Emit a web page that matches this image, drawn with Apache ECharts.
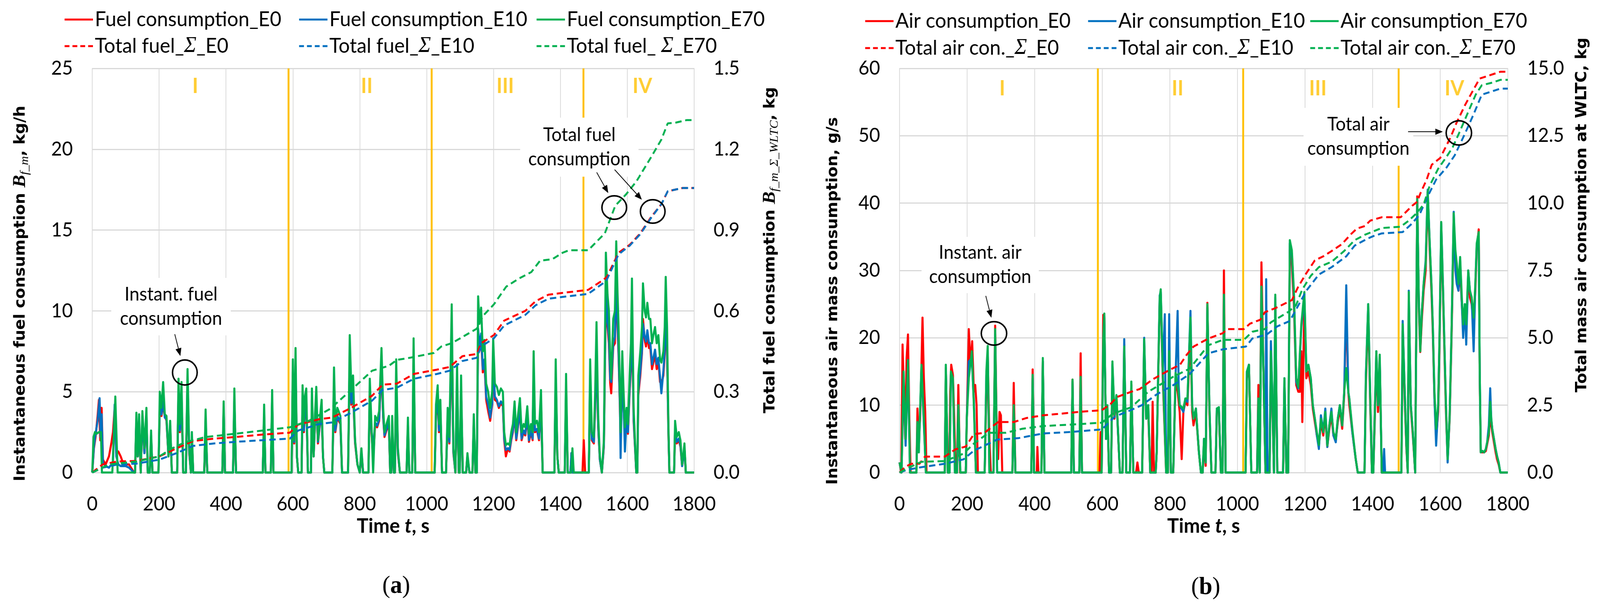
<!DOCTYPE html>
<html><head><meta charset="utf-8">
<script src="https://cdn.jsdelivr.net/npm/echarts@6/dist/echarts.min.js"></script>
<style>html,body{margin:0;padding:0;background:#fff;overflow:hidden}#c{width:4285px;height:1553px;transform-origin:0 0}</style>
</head><body><div id="c"></div>
<script>
// ---------------- DATA ----------------
const phaseLabels = ['I', 'II', 'III', 'IV'];
const phaseBoundsA = [587, 1015, 1469];
const phaseBoundsB = [587, 1017, 1477];

// Panel (a): instantaneous fuel consumption, kg/h  [t, value]
const fuelE0 = [[0,0],[5,1.5],[10,2.2],[16,3.5],[20,4.5],[24,2],[28,4.0],[32,0.8],[40,0.5],[50,1.0],[57,1.8],[62,2.5],[67,4.0],[72,1.2],[78,1.3],[85,1.0],[92,0.6],[100,0.5],[110,0.5],[125,0],[128,0],[132,3.2],[136,1],[140,3.0],[145,0],[147,0],[150,3.4],[156,1.2],[162,3.6],[166,0],[172,0],[176,2.2],[180,0],[198,0],[202,4.0],[207,3.5],[212,4.2],[217,3.5],[222,3.2],[228,1],[233,2.8],[238,0],[254,0],[258,4.8],[262,2.5],[267,4.6],[272,0],[280,0],[285,5.6],[290,1.2],[295,0],[298,2.0],[302,0],[335,0],[339,3.2],[344,0],[389,0],[393,3.8],[397,0],[421,0],[425,4.4],[430,0],[510,0],[514,3.5],[518,0],[534,0],[538,4.4],[542,0],[596,0],[600,6.0],[604,1.8],[608,6.4],[612,1],[616,0],[626,0],[629,4.4],[633,2.5],[636,3.8],[640,4.4],[645,0],[654,0],[657,4.4],[662,1],[666,3],[670,4.5],[675,1.8],[680,2.8],[686,3.8],[690,1],[694,0],[718,0],[723,5.4],[727,2.5],[733,3.4],[742,3.0],[747,0],[765,0],[770,7.0],[775,4.2],[780,5.0],[786,1.8],[793,0.5],[800,0],[805,1.2],[810,0],[826,0],[830,4.8],[835,2.5],[840,0.8],[846,3.0],[852,2.8],[858,3.2],[865,6.5],[870,3.4],[874,2.2],[880,2.6],[887,3.0],[891,0],[894,0],[897,2.8],[902,0],[905,0],[909,5.8],[914,1.2],[920,0],[940,0],[944,2.8],[948,0],[957,0],[961,6.8],[966,0],[1024,0],[1028,3.5],[1033,4.5],[1037,2.5],[1041,3.8],[1046,0],[1058,0],[1063,3.3],[1068,1.8],[1075,8.5],[1080,1.2],[1086,0],[1088,0],[1091,5.5],[1096,0],[1099,0],[1103,5.0],[1108,0],[1118,0],[1122,1.0],[1128,0],[1137,0],[1141,3.0],[1146,0],[1150,0],[1154,8.6],[1158,7.6],[1163,8.3],[1168,6.2],[1173,6.8],[1178,4.5],[1184,3.8],[1190,3.2],[1196,4.2],[1199,6.8],[1204,4.5],[1210,4.4],[1216,4.0],[1222,4.3],[1228,4.1],[1232,2.0],[1237,1.0],[1243,1.5],[1248,1.3],[1253,2.0],[1258,2.5],[1263,3.6],[1268,2.0],[1273,2.8],[1279,3.8],[1284,2.0],[1290,2.5],[1295,2.3],[1301,3.4],[1306,1.9],[1312,2.5],[1317,2.0],[1320,6.1],[1324,2.5],[1330,2.6],[1336,2.0],[1342,4.2],[1347,0],[1382,0],[1386,5.8],[1391,1],[1395,0],[1413,0],[1417,5.0],[1422,0],[1430,0],[1433,1.2],[1436,0],[1466,0],[1470,2.0],[1474,0],[1485,0],[1489,5.8],[1494,2.0],[1500,1.8],[1504,4],[1508,7.6],[1513,2.8],[1518,0.8],[1524,0],[1530,1.6],[1536,11.0],[1541,9],[1545,8.0],[1549,5.5],[1552,4.9],[1558,7.8],[1563,8],[1567,11.5],[1571,9],[1574,7.2],[1578,4],[1580,2.0],[1585,6],[1589,4],[1593,2.3],[1598,3.2],[1602,2.4],[1607,5],[1611,6.5],[1614,9.8],[1619,3.2],[1622,2.0],[1627,0],[1630,0],[1633,4.8],[1639,6.0],[1644,7.4],[1647,9.5],[1652,8.2],[1656,7.8],[1660,8.5],[1665,7.7],[1669,7.7],[1674,6.4],[1678,6.8],[1683,7.3],[1688,6.4],[1693,6.9],[1698,5.6],[1702,5.5],[1708,6.0],[1712,7.3],[1715,9.8],[1719,7.3],[1723,2.5],[1726,0],[1740,0],[1743,2.6],[1748,1.8],[1754,2.0],[1759,1.6],[1764,0.4],[1768,1.0],[1771,1.5],[1775,0],[1800,0]];
const fuelE10 = [[0,0],[5,1.6],[10,2.4],[16,3.2],[22,4.6],[25,2.2],[28,3.6],[32,0.6],[40,0.4],[50,0.3],[57,0.5],[62,0.6],[67,4.2],[72,1.0],[78,0.5],[85,0.4],[100,0.4],[110,0.3],[125,0],[128,0],[132,3.3],[136,1],[140,3.1],[145,0],[147,0],[150,3.5],[156,1.2],[162,3.7],[166,0],[172,0],[176,2.3],[180,0],[198,0],[202,4.1],[207,3.6],[212,4.4],[217,3.4],[222,3.3],[228,1],[233,2.9],[238,0],[254,0],[258,4.9],[262,2.6],[267,4.7],[272,0],[280,0],[285,5.7],[290,1.3],[295,0],[298,1.9],[302,0],[335,0],[339,3.3],[344,0],[389,0],[393,3.9],[397,0],[421,0],[425,4.5],[430,0],[510,0],[514,3.6],[518,0],[534,0],[538,4.5],[542,0],[596,0],[600,6.2],[604,1.9],[608,6.6],[612,1],[616,0],[626,0],[629,4.6],[633,2.6],[636,3.9],[640,4.5],[645,0],[654,0],[657,4.5],[662,1],[666,3.1],[670,4.6],[675,1.9],[680,2.9],[686,3.9],[690,1],[694,0],[718,0],[723,5.6],[727,2.6],[733,3.5],[742,3.1],[747,0],[765,0],[770,7.2],[775,4.3],[780,5.2],[786,1.9],[793,0.5],[800,0],[805,1.3],[810,0],[826,0],[830,5.0],[835,2.6],[840,1.5],[846,3.1],[852,2.9],[858,3.3],[865,6.7],[870,3.5],[874,2.3],[880,2.7],[887,3.1],[891,0],[894,0],[897,2.9],[902,0],[905,0],[909,6.0],[914,1.3],[920,0],[940,0],[944,2.9],[948,0],[957,0],[961,7.0],[966,0],[1024,0],[1028,3.6],[1033,4.6],[1037,2.6],[1041,3.9],[1046,0],[1058,0],[1063,3.4],[1068,1.9],[1075,8.8],[1080,1.3],[1086,0],[1088,0],[1091,5.7],[1096,0],[1099,0],[1103,5.1],[1108,0],[1118,0],[1122,1.0],[1128,0],[1137,0],[1141,3.1],[1146,0],[1150,0],[1154,8.9],[1158,7.8],[1163,8.6],[1168,6.4],[1173,7.0],[1178,4.7],[1184,4.2],[1190,3.4],[1196,4.3],[1199,7.0],[1204,4.7],[1210,4.5],[1216,4.1],[1222,4.4],[1228,4.2],[1232,2.1],[1237,1.4],[1243,1.5],[1248,1.4],[1253,2.1],[1258,2.6],[1263,3.7],[1268,2.1],[1273,2.9],[1279,3.9],[1284,2.1],[1290,2.6],[1295,2.4],[1301,3.5],[1306,2.0],[1312,2.6],[1317,2.1],[1320,6.3],[1324,2.6],[1330,2.7],[1336,2.1],[1342,4.3],[1347,0],[1382,0],[1386,6.0],[1391,1],[1395,0],[1413,0],[1417,5.2],[1422,0],[1430,0],[1433,1.2],[1436,0],[1485,0],[1489,6.0],[1494,2.1],[1500,1.9],[1504,4.2],[1508,7.8],[1513,2.9],[1518,0.8],[1524,0],[1530,1.7],[1536,11.4],[1541,9.3],[1545,8.4],[1549,5.8],[1552,5.6],[1558,8.0],[1563,8.4],[1567,12.0],[1571,9.3],[1574,7.5],[1578,4.2],[1580,0.9],[1585,6.3],[1589,4.2],[1593,1.3],[1598,3.4],[1602,2.5],[1607,5.2],[1611,6.8],[1614,10.1],[1619,3.4],[1622,2.1],[1627,0],[1630,0],[1633,5.0],[1639,6.3],[1644,7.6],[1647,9.2],[1652,8.4],[1656,8.1],[1660,8.8],[1665,8.0],[1669,8.0],[1674,6.7],[1678,7.1],[1683,7.6],[1688,6.7],[1693,7.1],[1698,5.9],[1702,4.9],[1708,6.3],[1712,7.6],[1715,10.1],[1719,7.6],[1723,2.6],[1726,0],[1740,0],[1743,2.7],[1748,1.9],[1754,2.1],[1759,1.7],[1764,0.4],[1768,1.0],[1771,1.5],[1775,0],[1800,0]];
const fuelE70 = [[0,0],[4,2.2],[8,2.5],[13,2.4],[20,2.5],[26,2.5],[29,0],[60,0],[66,3],[69,4.7],[73,2],[76,0],[128,0],[132,3.7],[136,1],[140,3.6],[145,0],[147,0],[150,3.8],[156,1.5],[162,4.0],[166,0],[172,0],[176,2.6],[180,0],[198,0],[202,5.0],[207,4],[212,5.6],[217,3.6],[222,3.5],[228,1],[233,3.2],[238,0],[254,0],[258,5.8],[262,3],[267,5.6],[272,0],[280,0],[285,6.4],[290,1.5],[295,0],[298,2.5],[302,0],[335,0],[339,3.9],[344,0],[389,0],[393,4.4],[397,0],[421,0],[425,5.2],[430,0],[510,0],[514,4.2],[518,0],[534,0],[538,5.1],[542,0],[596,0],[600,7.0],[604,2],[608,7.7],[612,1],[616,0],[626,0],[629,5.4],[633,3],[636,4.7],[640,5.2],[645,0],[654,0],[657,5.2],[662,1],[666,3.5],[670,5.3],[675,2],[680,3.2],[686,4.5],[690,1],[694,0],[718,0],[723,6.5],[727,3],[733,4],[742,3.5],[747,0],[765,0],[770,8.5],[775,5],[780,6.0],[786,2],[793,0.5],[800,0],[805,1.5],[810,0],[826,0],[830,5.8],[835,3],[840,0],[846,3.5],[852,3.2],[858,3.8],[865,7.7],[870,4],[874,2.5],[880,3],[887,3.5],[891,0],[894,0],[897,3.5],[902,0],[905,0],[909,7.0],[914,1.5],[920,0],[940,0],[944,3.4],[948,0],[957,0],[961,8.3],[966,0],[1024,0],[1028,4.2],[1033,5.4],[1037,3],[1041,4.5],[1046,0],[1058,0],[1063,4.0],[1068,2.2],[1075,10.4],[1080,1.5],[1086,0],[1088,0],[1091,6.7],[1096,0],[1099,0],[1103,6.0],[1108,0],[1118,0],[1122,1.2],[1128,0],[1137,0],[1141,3.6],[1146,0],[1150,0],[1154,10.9],[1158,9.2],[1163,10.2],[1168,7.5],[1173,8.2],[1178,5.5],[1184,5.0],[1190,4.0],[1196,5],[1199,8.3],[1204,5.5],[1210,5.3],[1216,4.8],[1222,5.2],[1228,5.0],[1232,2.5],[1237,1.7],[1243,1.8],[1248,1.7],[1253,2.5],[1258,3.0],[1263,4.4],[1268,2.5],[1273,3.5],[1279,4.6],[1284,2.5],[1290,3.0],[1295,2.8],[1301,4.1],[1306,2.4],[1312,3.0],[1317,2.5],[1320,7.5],[1324,3.0],[1330,3.2],[1336,2.5],[1342,5.1],[1347,0],[1382,0],[1386,7.0],[1391,1],[1395,0],[1413,0],[1417,6.1],[1422,0],[1432,0],[1436,1.5],[1440,0],[1485,0],[1489,7.0],[1494,2.5],[1500,2.2],[1504,5],[1508,9.3],[1513,3.5],[1518,1],[1524,0],[1530,2],[1536,13.6],[1541,11],[1545,10.0],[1549,7],[1552,5.8],[1558,9.5],[1563,10],[1567,14.3],[1571,11],[1574,9.0],[1578,5],[1580,2.5],[1585,7.5],[1589,5],[1593,2.8],[1598,4],[1602,3.0],[1607,6],[1611,8],[1614,12.0],[1619,4],[1622,2.5],[1627,0],[1630,0],[1633,6.0],[1639,7.5],[1644,9],[1647,11.7],[1652,10.0],[1656,9.6],[1660,10.5],[1665,9.5],[1669,9.5],[1674,8.0],[1678,8.5],[1683,9.0],[1688,8.0],[1693,8.5],[1698,7.0],[1702,6.8],[1708,7.5],[1712,9],[1715,12.1],[1719,9.0],[1723,3],[1726,0],[1740,0],[1743,3.2],[1748,2.2],[1754,2.5],[1759,2.0],[1764,0.5],[1768,1.2],[1771,1.8],[1775,0],[1800,0]];

// Panel (a): total fuel consumption, kg
const totFuelE0 = [[0,0],[31,0.030],[75,0.041],[132,0.043],[201,0.060],[252,0.090],[302,0.117],[365,0.126],[428,0.132],[510,0.141],[591,0.148],[616,0.178],[679,0.198],[717,0.204],[774,0.240],[837,0.285],[868,0.326],[911,0.330],[962,0.366],[1031,0.382],[1069,0.392],[1107,0.432],[1150,0.440],[1163,0.480],[1201,0.510],[1232,0.564],[1295,0.600],[1326,0.636],[1364,0.660],[1401,0.666],[1483,0.678],[1527,0.714],[1539,0.726],[1574,0.816],[1608,0.846],[1639,0.888],[1671,0.948],[1702,0.996],[1721,1.044],[1765,1.056],[1800,1.056]];
const totFuelE10 = [[0,0],[31,0.018],[75,0.030],[132,0.033],[201,0.048],[252,0.072],[302,0.099],[365,0.108],[428,0.114],[510,0.120],[591,0.126],[616,0.156],[679,0.180],[717,0.186],[774,0.222],[837,0.267],[868,0.306],[911,0.315],[962,0.348],[1031,0.366],[1069,0.378],[1107,0.414],[1150,0.426],[1163,0.468],[1201,0.498],[1232,0.546],[1295,0.585],[1326,0.621],[1364,0.645],[1401,0.651],[1483,0.663],[1527,0.702],[1539,0.716],[1574,0.810],[1608,0.843],[1639,0.885],[1671,0.945],[1702,0.996],[1721,1.044],[1765,1.056],[1800,1.056]];
const totFuelE70 = [[0,0],[50,0.030],[132,0.041],[201,0.060],[239,0.090],[277,0.112],[340,0.132],[428,0.144],[591,0.168],[648,0.192],[711,0.236],[774,0.306],[837,0.378],[887,0.396],[911,0.418],[950,0.426],[1022,0.444],[1044,0.468],[1075,0.480],[1100,0.498],[1150,0.534],[1169,0.582],[1201,0.624],[1238,0.690],[1276,0.720],[1313,0.744],[1339,0.786],[1376,0.792],[1407,0.816],[1426,0.825],[1483,0.825],[1533,0.888],[1564,0.990],[1596,1.032],[1627,1.080],[1671,1.170],[1702,1.236],[1721,1.296],[1746,1.299],[1777,1.308],[1800,1.308]];

// Panel (b): instantaneous air mass consumption, g/s
const airE0 = [[0,1.5],[5,0],[9,19],[13,12],[17,5],[21,17],[25,20.5],[29,8],[33,0],[50,0],[53,9.5],[57,5],[61,8],[65,16],[68,23],[72,14],[76,9],[80,0],[134,0],[137,15.5],[143,0],[147,0],[150,12],[153,16],[158,14.5],[162,8],[166,0],[170,0],[174,13],[179,0],[196,0],[200,10],[205,21.3],[210,16],[215,19.5],[220,12],[224,13],[228,10],[232,0],[252,0],[257,12],[261,17.5],[266,5],[270,0],[278,0],[283,21.8],[288,5],[292,2],[296,9],[300,8.5],[304,0],[334,0],[338,13.3],[343,0],[390,0],[394,15.3],[398,0],[406,0],[408,3.8],[411,0],[420,0],[424,16.5],[429,0],[508,0],[512,13.8],[516,0],[532,0],[536,17.7],[540,0],[592,0],[595,6],[598,0],[600,0],[603,23.4],[606,23],[611,5],[615,9],[620,0],[626,0],[630,15],[636,8],[642,11],[652,0],[660,0],[665,19],[671,0],[682,0],[686,13],[692,0],[700,0],[704,1.5],[708,0],[718,0],[724,19],[730,8],[736,9],[742,0],[746,0],[749,10.5],[753,0],[758,0],[761,3],[770,25.6],[773,26.5],[779,14],[789,0],[794,0],[798,17],[803,0],[810,0],[817,14],[823,12],[829,9],[835,2],[840,9],[846,10.5],[852,10],[861,21],[866,9],[870,7],[877,9],[886,3],[892,0],[897,0],[901,4],[906,1],[911,25.2],[917,9],[923,0],[935,0],[939,9],[945,9.2],[951,0],[956,0],[960,30],[965,0],[1024,0],[1028,14],[1034,16],[1041,0],[1058,0],[1062,13],[1066,0],[1068,0],[1071,31.2],[1077,15],[1083,0],[1095,0],[1099,17],[1103,11],[1108,0],[1110,0],[1112,25],[1118,0],[1135,0],[1139,13],[1145,0],[1150,0],[1155,33],[1161,31],[1167,25],[1174,13],[1180,12],[1185,12],[1189,18],[1192,7.5],[1198,25],[1204,14],[1210,15],[1217,13],[1223,9.5],[1229,7.5],[1235,5.5],[1241,4],[1247,7.5],[1254,5.5],[1260,8.5],[1266,3.8],[1272,6.5],[1278,8.5],[1284,5.5],[1291,4.8],[1297,7.5],[1303,9.5],[1310,6.5],[1316,11.5],[1322,25],[1328,12],[1331,10],[1340,6],[1350,2],[1356,0],[1376,0],[1380,13],[1387,24],[1393,10],[1398,0],[1402,0],[1406,7],[1411,17],[1416,9],[1421,16.5],[1427,0],[1485,0],[1489,21],[1495,11],[1500,3.5],[1504,0],[1507,25.5],[1513,9.5],[1519,5.5],[1526,0],[1532,41],[1537,24],[1541,17.9],[1546,23],[1551,27],[1557,30],[1563,41],[1569,33],[1574,27],[1578,21],[1583,11],[1588,5],[1594,9],[1598,19],[1603,36],[1608,27],[1612,19],[1617,9],[1622,2],[1628,8],[1634,21],[1640,37],[1645,31],[1649,29],[1654,27],[1659,30],[1664,25],[1668,21.5],[1673,24],[1677,21],[1683,29],[1688,26],[1693,25],[1699,22],[1704,27],[1708,33],[1714,36.1],[1717,14],[1720,3],[1725,3],[1730,3],[1735,3.2],[1739,4.2],[1744,5.5],[1748,9.5],[1751,7],[1754,6],[1759,4.5],[1764,3],[1768,2],[1773,1.2],[1778,0],[1800,0]];
const airE10 = [[0,1.5],[6,0],[12,14],[18,4],[25,16],[31,0],[50,0],[53,7],[57,3],[65,15.5],[71,8.5],[78,0],[134,0],[137,15.5],[143,0],[148,0],[152,14.5],[158,13.5],[164,0],[170,0],[174,9.5],[180,0],[196,0],[199,8],[205,16.5],[214,17],[220,10.5],[226,0],[252,0],[257,14.5],[261,17.5],[266,0],[278,0],[283,20.5],[289,0],[334,0],[338,9.5],[343,0],[390,0],[394,14],[398,0],[420,0],[424,16.5],[429,0],[508,0],[512,13.5],[516,0],[532,0],[536,14],[540,0],[598,0],[603,19.5],[606,23.2],[611,5],[615,9.5],[620,0],[626,0],[630,16],[636,8.5],[642,11],[652,0],[660,0],[665,19.8],[671,0],[682,0],[686,13],[692,0],[718,0],[724,20],[730,8],[736,10],[742,0],[758,0],[761,3],[770,26.3],[773,26.8],[779,15],[785,23.5],[789,0],[794,0],[798,23.5],[803,0],[810,0],[817,14.5],[823,24],[826,13],[829,10],[840,9],[846,11],[852,10.5],[861,24],[866,10],[870,8],[877,9.5],[886,3],[892,0],[897,0],[901,5],[906,1.5],[911,24.5],[917,10],[923,0],[935,0],[939,9.5],[945,9.5],[951,0],[956,0],[960,26],[965,0],[1024,0],[1028,15],[1034,16],[1041,0],[1058,0],[1062,11],[1066,0],[1068,0],[1071,27],[1077,15],[1083,0],[1085,28.7],[1089,0],[1095,0],[1099,19.5],[1103,12],[1108,0],[1110,0],[1112,26],[1118,0],[1135,0],[1139,14],[1145,0],[1150,0],[1155,34],[1161,32.5],[1167,26.5],[1174,13.5],[1180,12.5],[1189,21.5],[1198,26],[1204,15],[1210,16],[1217,14],[1223,10],[1229,8],[1235,5.5],[1241,3.5],[1247,8.5],[1254,6],[1260,9.5],[1266,3.8],[1272,7],[1278,9.5],[1284,5.5],[1291,4.5],[1297,8],[1303,10],[1310,7],[1316,12],[1322,27.8],[1328,12],[1331,11],[1340,6],[1350,2],[1356,0],[1376,0],[1380,14.5],[1387,25],[1393,11],[1398,0],[1402,0],[1406,8],[1411,18],[1416,10],[1421,17],[1427,0],[1431,0],[1434,3.5],[1437,0],[1485,0],[1489,22.5],[1495,12],[1500,4],[1504,0],[1507,27],[1513,10],[1519,6],[1526,0],[1532,40.3],[1537,25],[1541,19],[1546,24],[1551,28],[1557,31.5],[1563,42],[1569,34],[1574,28],[1578,22],[1583,11],[1588,4],[1594,10],[1598,20],[1603,37],[1608,28],[1612,20],[1617,10],[1622,1.5],[1628,8.5],[1634,22],[1640,38.7],[1645,30],[1649,28],[1654,27],[1659,31.5],[1664,25],[1668,20],[1673,25],[1677,19],[1683,30],[1688,27],[1693,26],[1699,18],[1704,28],[1708,33.5],[1714,34.5],[1717,15],[1720,3],[1725,3.2],[1730,3],[1735,3.5],[1739,4.5],[1744,7],[1748,12.5],[1751,8],[1754,6.5],[1759,5],[1764,3.5],[1768,2.5],[1773,1.5],[1778,0],[1800,0]];
const airE70 = [[0,1.5],[6,0],[12,15],[18,5],[25,16.7],[31,0],[50,0],[53,7.5],[57,3],[65,16.0],[71,9],[78,0],[134,0],[137,16],[143,0],[148,0],[152,15],[158,14],[164,0],[170,0],[174,10],[180,0],[196,0],[199,8],[205,14],[214,18],[220,10],[226,0],[252,0],[257,15],[261,18.8],[266,0],[278,0],[283,21.3],[289,0],[334,0],[338,10],[343,0],[390,0],[394,14.5],[398,0],[420,0],[424,17],[429,0],[508,0],[512,13.8],[516,0],[532,0],[536,14.2],[540,0],[598,0],[603,20],[606,23.6],[611,5],[615,10],[620,0],[626,0],[630,16.5],[636,8.5],[642,11.5],[652,0],[660,0],[665,18.7],[671,0],[682,0],[686,13.5],[692,0],[718,0],[724,19.8],[730,8],[736,10],[742,0],[758,0],[761,3],[770,26],[773,27.2],[779,15],[789,0],[794,0],[798,18],[803,0],[810,0],[817,14.8],[823,13],[829,10],[840,9.5],[846,11],[852,11],[861,23],[866,10],[870,8],[877,9.5],[886,3],[892,0],[897,0],[901,5],[906,1.5],[911,25],[917,10],[923,0],[935,0],[939,9.5],[945,9.7],[951,0],[956,0],[960,26.4],[965,0],[1024,0],[1028,15],[1034,16],[1041,0],[1058,0],[1062,11],[1066,0],[1068,0],[1071,27.6],[1077,15],[1083,0],[1095,0],[1099,18],[1103,12],[1108,0],[1110,0],[1112,26.4],[1118,0],[1135,0],[1139,14],[1145,0],[1150,0],[1155,34.5],[1161,33],[1167,27],[1174,14],[1180,12.7],[1189,22],[1198,26.8],[1204,15],[1210,16],[1217,14],[1223,10],[1229,8],[1235,6],[1241,4.1],[1247,8],[1254,6],[1260,9],[1266,4],[1272,7],[1278,9],[1284,6],[1291,5],[1297,8],[1303,10],[1310,7],[1316,12],[1322,15.5],[1328,12],[1331,11],[1340,6.5],[1350,2],[1356,0],[1376,0],[1380,14],[1387,25],[1393,11],[1398,0],[1402,0],[1406,8],[1411,18],[1416,10],[1421,17.5],[1427,0],[1485,0],[1489,22],[1495,12],[1500,4],[1504,0],[1507,26.8],[1513,10],[1519,6],[1526,0],[1532,40.6],[1537,25],[1541,18],[1546,24],[1551,28],[1557,31],[1563,41.7],[1569,34],[1574,28],[1578,22],[1583,12],[1588,6.5],[1594,10],[1598,20],[1603,37.2],[1608,28],[1612,20],[1617,10],[1622,2],[1628,8.5],[1634,22],[1640,38.5],[1645,33],[1649,31],[1654,28],[1659,32],[1664,26],[1668,22],[1673,25],[1677,22],[1683,30],[1688,27],[1693,26],[1699,23],[1704,28],[1708,34],[1714,35.7],[1717,15],[1720,3],[1725,3.2],[1730,3],[1735,3.5],[1739,4.5],[1744,6],[1748,10.5],[1751,8],[1754,6.5],[1759,5],[1764,3.5],[1768,2.5],[1773,1.5],[1778,0],[1800,0]];

// Panel (b): total air consumption, kg
const totAirE0 = [[0,0],[16,0.2],[34,0.325],[59,0.325],[75,0.59],[134,0.59],[165,0.86],[196,0.965],[220,1.425],[252,1.475],[276,1.725],[292,1.875],[338,1.875],[376,2.025],[425,2.125],[469,2.175],[531,2.25],[599,2.315],[624,2.54],[643,2.8],[686,3.0],[711,3.1],[748,3.45],[798,3.8],[830,4.0],[850,4.375],[870,4.675],[914,4.975],[957,5.175],[969,5.325],[1019,5.325],[1037,5.525],[1068,5.675],[1081,5.95],[1112,6.1],[1149,6.325],[1161,6.4],[1180,6.9],[1204,7.4],[1229,7.875],[1254,8.025],[1279,8.225],[1309,8.475],[1334,8.825],[1353,9.05],[1377,9.15],[1393,9.35],[1427,9.475],[1483,9.475],[1501,9.7],[1517,9.9],[1532,10.05],[1541,10.35],[1560,10.875],[1575,11.425],[1600,11.675],[1612,11.975],[1631,12.45],[1649,13.0],[1674,13.65],[1699,14.225],[1717,14.625],[1748,14.75],[1778,14.875],[1800,14.875]];
const totAirE10 = [[0,0],[22,0.1],[65,0.2],[134,0.325],[189,0.4875],[220,0.8125],[264,1.075],[289,1.225],[351,1.275],[425,1.45],[500,1.5],[599,1.6],[637,2.075],[686,2.325],[717,2.5],[761,2.9],[811,3.25],[858,3.65],[914,4.425],[957,4.575],[1025,4.675],[1044,4.975],[1087,5.125],[1118,5.425],[1155,5.625],[1180,6.2],[1204,6.75],[1241,7.35],[1279,7.625],[1322,8.025],[1347,8.425],[1384,8.675],[1402,8.775],[1427,8.875],[1489,8.925],[1513,9.2],[1538,9.55],[1563,10.25],[1588,10.875],[1619,11.325],[1643,11.775],[1674,12.6],[1699,13.3],[1723,14.025],[1748,14.125],[1778,14.25],[1800,14.25]];
const totAirE70 = [[0,0],[22,0.15],[65,0.4],[134,0.425],[189,0.7],[220,1.075],[264,1.475],[314,1.475],[363,1.625],[425,1.725],[500,1.775],[599,1.85],[630,2.175],[686,2.425],[736,3.0],[780,3.325],[809,3.55],[858,3.85],[914,4.725],[957,4.925],[1019,4.925],[1044,5.225],[1081,5.325],[1099,5.575],[1149,5.95],[1173,6.2],[1192,6.8],[1217,7.3],[1241,7.625],[1279,7.825],[1316,8.225],[1347,8.625],[1377,8.825],[1402,8.95],[1427,9.075],[1483,9.125],[1507,9.35],[1532,9.65],[1551,9.95],[1569,10.65],[1594,11.275],[1619,11.725],[1637,12.075],[1656,12.6],[1680,13.3],[1705,14.025],[1723,14.375],[1755,14.475],[1778,14.575],[1800,14.575]];

// ---------------- LAYOUT / STYLE ----------------
const W = 4285, H = 1553;
(function fitViewport() {
  const el = document.getElementById('c');
  const sx = Math.min(1, (window.innerWidth || W) / W);
  const sy = Math.min(1, (window.innerHeight || H) / H);
  if (sx < 1 || sy < 1) el.style.transform = 'scale(' + sx + ',' + sy + ')';
})();

const RED = '#FF0000', BLUE = '#0070C0', GREEN = '#00B050', ORANGE = '#FFC000', GRID = '#d9d9d9';
const FONT = 'Lato';

const chart = echarts.init(document.getElementById('c'), null, {renderer: 'canvas', width: W, height: H});

function solid(name, data, color, xi, yi) {
  return {name, type: 'line', data, xAxisIndex: xi, yAxisIndex: yi, symbol: 'none', silent: true,
    lineStyle: {color, width: 5.5, join: 'round'}, itemStyle: {color}, z: 3};
}
function dashed(name, data, color, xi, yi) {
  return {name, type: 'line', data, xAxisIndex: xi, yAxisIndex: yi, symbol: 'none', silent: true,
    lineStyle: {color, width: 5, type: [17, 10]}, itemStyle: {color}, z: 4};
}
function phaseLines(bounds, xi, yi, ymax) {
  return bounds.map(b => ({type: 'line', xAxisIndex: xi, yAxisIndex: yi, symbol: 'none', silent: true,
    data: [[b, 0], [b, ymax]], lineStyle: {color: ORANGE, width: 5}, z: 2}));
}
function romans(pos, xi, yi, y) {
  return {type: 'scatter', xAxisIndex: xi, yAxisIndex: yi, symbolSize: 2, silent: true,
    itemStyle: {color: 'rgba(0,0,0,0)'}, z: 5,
    data: pos.map((t, i) => ({name: phaseLabels[i], value: [t, y]})),
    label: {show: true, position: 'inside', formatter: '{b}', fontFamily: FONT, fontWeight: 'bold',
      fontSize: 53, color: ORANGE}};
}

function xAx(gi) {
  return {type: 'value', gridIndex: gi, min: 0, max: 1800, interval: 200,
    axisLine: {show: true, lineStyle: {color: GRID, width: 3}}, axisTick: {show: false},
    splitLine: {show: true, lineStyle: {color: GRID, width: 2}},
    axisLabel: {fontFamily: FONT, fontSize: 50, color: '#000', margin: 56, formatter: v => String(v)},
    name: '{b|Time }{bi|t}{b|, s}', nameLocation: 'middle', nameGap: 110,
    nameTextStyle: {rich: {
      b: {fontFamily: FONT, fontWeight: 'bold', fontSize: 52, color: '#000'},
      bi: {fontFamily: FONT, fontWeight: 'bold', fontStyle: 'italic', fontSize: 52, color: '#000'}}}};
}
function yAx(gi, pos, max, interval, dec, split) {
  return {type: 'value', gridIndex: gi, position: pos, min: 0, max, interval,
    axisLine: {show: true, lineStyle: {color: GRID, width: 2}}, axisTick: {show: false},
    splitLine: {show: split, lineStyle: {color: GRID, width: 3}},
    axisLabel: {fontFamily: FONT, fontSize: 50, color: '#000', margin: 52,
      formatter: v => dec ? v.toFixed(1) : String(Math.round(v))}};
}

const ICON_SOLID = 'path://M0,0H76V5H0Z';
const ICON_DASH = 'path://M0,0H13V5H0Z M21,0H34V5H21Z M42,0H55V5H42Z M63,0H76V5H63Z';
function legendItem(name, left, top, isDash) {
  return {data: [{name, icon: isDash ? ICON_DASH : ICON_SOLID}], left, top, padding: 0,
    itemWidth: 76, itemHeight: 5, itemGap: 0, selectedMode: false,
    formatter: n => n.replace('Σ', '{i|Σ}'),
    textStyle: {fontFamily: FONT, fontSize: 53, color: '#000', lineHeight: 60,
      rich: {i: {fontFamily: '"Liberation Serif"', fontSize: 56, fontStyle: 'italic', color: '#000', lineHeight: 60}}}};
}

const namesA = ['Fuel consumption_E0', 'Fuel consumption_E10', 'Fuel consumption_E70',
                'Total fuel_Σ_E0', 'Total fuel_Σ_E10', 'Total fuel_ Σ_E70'];
const namesB = ['Air consumption_E0', 'Air consumption_E10', 'Air consumption_E70',
                'Total air con._Σ_E0', 'Total air con._Σ_E10', 'Total air con._Σ_E70'];
const colA = [173, 801, 1437], colB = [2317, 2914, 3509];
const legends = [];
namesA.forEach((n, i) => legends.push(legendItem(n, colA[i % 3], i < 3 ? 20 : 88, i >= 3)));
namesB.forEach((n, i) => legends.push(legendItem(n, colB[i % 3], i < 3 ? 24 : 93, i >= 3)));

// ------------- annotations (pixel space) -------------
const G = [];
function tbox(x, y, w, h, text) {
  G.push({type: 'rect', shape: {x, y, width: w, height: h}, style: {fill: '#fff'}, z: 100, silent: true});
  G.push({type: 'text', x: x + w / 2, y: y + h / 2, z: 101, silent: true,
    style: {text, fill: '#000', font: '48px ' + FONT, align: 'center', verticalAlign: 'middle', lineHeight: 62}});
}
function arrow(x1, y1, x2, y2) {
  const a = Math.atan2(y2 - y1, x2 - x1), L = 20, Wd = 8;
  const bx = x2 - L * Math.cos(a), by = y2 - L * Math.sin(a);
  const px = -Math.sin(a) * Wd, py = Math.cos(a) * Wd;
  G.push({type: 'line', shape: {x1, y1, x2: bx, y2: by}, style: {stroke: '#000', lineWidth: 2}, z: 110, silent: true});
  G.push({type: 'polygon', shape: {points: [[x2, y2], [bx + px, by + py], [bx - px, by - py]]}, style: {fill: '#000'}, z: 110, silent: true});
}
function ell(cx, cy, rx, ry) {
  G.push({type: 'ellipse', shape: {cx, cy, rx, ry}, style: {stroke: '#000', lineWidth: 4, fill: null}, z: 110, silent: true});
}
tbox(298, 711, 320, 147, 'Instant. fuel\nconsumption');
arrow(468, 855, 483, 911);
ell(495, 953, 33, 32);
tbox(1393, 301, 317, 151, 'Total fuel\nconsumption');
arrow(1598, 441, 1629, 494);
arrow(1646, 434, 1719, 511);
ell(1645, 531, 33, 30);
ell(1748, 541, 33, 30);
tbox(2468, 606, 314, 144, 'Instant. air\nconsumption');
arrow(2640, 757, 2655, 813);
ell(2662, 853, 34, 30);
tbox(3491, 276, 294, 148, 'Total air\nconsumption');
arrow(3771, 337, 3864, 337);
ell(3907, 340, 34, 31);

const TF = '"DejaVu Sans"', SF = '"Liberation Serif"';
const titleRich = {
  r: {fontFamily: TF, fontWeight: 'bold', fontSize: 40.5, fill: '#000', lineHeight: 56, verticalAlign: 'middle'},
  bi: {fontFamily: SF, fontWeight: 'bold', fontStyle: 'italic', fontSize: 48, fill: '#000', lineHeight: 56, verticalAlign: 'middle'},
  sub: {fontFamily: SF, fontStyle: 'italic', fontSize: 32, fill: '#000', lineHeight: 56, verticalAlign: 'bottom'}
};
function vtitle(x, y, text) {
  G.push({type: 'text', x, y, rotation: Math.PI / 2, z: 120, silent: true,
    style: {text, rich: titleRich, align: 'center', verticalAlign: 'middle', fill: '#000', font: 'bold 40.5px ' + TF}});
}
vtitle(55, 751, '{r|Instantaneous fuel consumption }{bi|B}{sub|f_m}{r|, kg/h}');
vtitle(2063, 640, '{r|Total fuel consumption }{bi|B}{sub|f_m_Σ_WLTC}{r|, kg}');
vtitle(2231, 770, '{r|Instantaneous air mass consumption, g/s}');
vtitle(4237, 550, '{r|Total mass air consumption at WLTC, kg}');

function sublabel(x, y, letter) {
  G.push({type: 'text', x, y, z: 120, silent: true,
    style: {text: '{p|(}{b|' + letter + '}{p|)}', align: 'center', verticalAlign: 'middle',
      rich: {p: {fontFamily: SF, fontSize: 64, fill: '#000'},
             b: {fontFamily: SF, fontWeight: 'bold', fontSize: 64, fill: '#000'}}}});
}
sublabel(1061, 1500, 'a');
sublabel(3229, 1503, 'b');

const option = {
  animation: false,
  backgroundColor: '#fff',
  grid: [
    {left: 247, top: 175, width: 1612, height: 1034},
    {left: 2409, top: 175, width: 1629, height: 1034}
  ],
  xAxis: [xAx(0), xAx(1)],
  yAxis: [
    yAx(0, 'left', 25, 5, false, true),
    yAx(0, 'right', 1.5, 0.3, true, false),
    yAx(1, 'left', 60, 10, false, true),
    yAx(1, 'right', 15, 2.5, true, false)
  ],
  legend: legends,
  series: [
    ...phaseLines(phaseBoundsA, 0, 0, 25),
    ...phaseLines(phaseBoundsB, 1, 2, 60),
    solid(namesA[0], fuelE0, RED, 0, 0),
    solid(namesA[1], fuelE10, BLUE, 0, 0),
    solid(namesA[2], fuelE70, GREEN, 0, 0),
    dashed(namesA[3], totFuelE0, RED, 0, 1),
    dashed(namesA[4], totFuelE10, BLUE, 0, 1),
    dashed(namesA[5], totFuelE70, GREEN, 0, 1),
    solid(namesB[0], airE0, RED, 1, 2),
    solid(namesB[1], airE10, BLUE, 1, 2),
    solid(namesB[2], airE70, GREEN, 1, 2),
    dashed(namesB[3], totAirE0, RED, 1, 3),
    dashed(namesB[4], totAirE10, BLUE, 1, 3),
    dashed(namesB[5], totAirE70, GREEN, 1, 3),
    romans([308, 821, 1235, 1645], 0, 0, 23.9),
    romans([304, 823, 1238, 1642], 1, 2, 57.0)
  ],
  graphic: {elements: G}
};
chart.setOption(option);
</script>
</body></html>
